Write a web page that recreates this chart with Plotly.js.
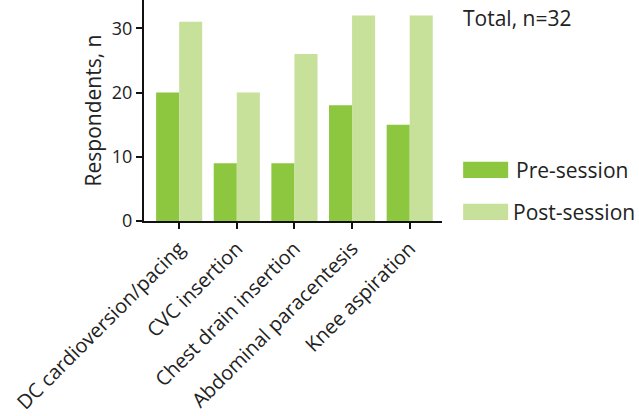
<!DOCTYPE html>
<html>
<head>
<meta charset="utf-8">
<script src="https://cdn.plot.ly/plotly-3.0.1.min.js"></script>
<style>
  html, body { margin: 0; padding: 0; background: #fff; }
  #chart { width: 639px; height: 416px; }
</style>
</head>
<body>
<div id="chart"></div>
<script>
// procedures and respondent counts
var procedures = ["DC cardioversion/pacing", "CVC insertion", "Chest drain insertion",
                  "Abdominal paracentesis", "Knee aspiration"];
var preSession = [20, 9, 9, 18, 15];
var postSession = [31, 20, 26, 32, 32];
var yTicks = [0, 10, 20, 30];

var preColor = "#8dc63f";
var postColor = "#c7e09a";
var txt = "#222222";

var tracePre = {
    x: procedures,
    y: preSession,
    type: "bar",
    name: "Pre-session",
    marker: {color: preColor}
};
var tracePost = {
    x: procedures,
    y: postSession,
    type: "bar",
    name: "Post-session",
    marker: {color: postColor}
};

var layout = {
    width: 639,
    height: 416,
    margin: {l: 144, r: 197, t: 0, b: 195},
    paper_bgcolor: "#fff",
    plot_bgcolor: "#fff",
    font: {family: "Open Sans, sans-serif", size: 16, color: txt},
    barmode: "group",
    bargap: 0.2,
    bargroupgap: 0,
    showlegend: false,
    xaxis: {
        range: [-0.61, 4.56],
        tickangle: -45,
        ticks: "outside",
        ticklen: 6,
        tickwidth: 2,
        tickcolor: "#111",
        showline: true,
        linewidth: 2,
        linecolor: "#111",
        showgrid: false,
        zeroline: false,
        tickfont: {size: 20, color: txt}
    },
    yaxis: {
        range: [0, 34.4],
        tickvals: yTicks,
        ticks: "outside",
        ticklen: 6,
        tickwidth: 2,
        tickcolor: "#111",
        showline: true,
        linewidth: 2,
        linecolor: "#111",
        showgrid: false,
        zeroline: false,
        tickfont: {size: 18, color: txt},
        title: {text: "Respondents, n", font: {size: 21, color: txt}, standoff: 4}
    },
    // hand-drawn legend to get the wide swatches
    shapes: [
        {type: "rect", xref: "paper", yref: "paper", x0: 1.071, x1: 1.222, y0: 0.195, y1: 0.268,
         fillcolor: preColor, line: {width: 0}},
        {type: "rect", xref: "paper", yref: "paper", x0: 1.071, x1: 1.222, y0: 0.005, y1: 0.078,
         fillcolor: postColor, line: {width: 0}}
    ],
    annotations: [
        {text: "Total, n=32", xref: "paper", yref: "paper", x: 1.065, y: 0.92,
         xanchor: "left", yanchor: "middle", showarrow: false, font: {size: 21, color: txt}},
        {text: "Pre-session", xref: "paper", yref: "paper", x: 1.24, y: 0.233,
         xanchor: "left", yanchor: "middle", showarrow: false, font: {size: 21, color: txt}},
        {text: "Post-session", xref: "paper", yref: "paper", x: 1.233, y: 0.042,
         xanchor: "left", yanchor: "middle", showarrow: false, font: {size: 21, color: txt}}
    ]
};

Plotly.newPlot("chart", [tracePre, tracePost], layout, {displayModeBar: false});
</script>
</body>
</html>
